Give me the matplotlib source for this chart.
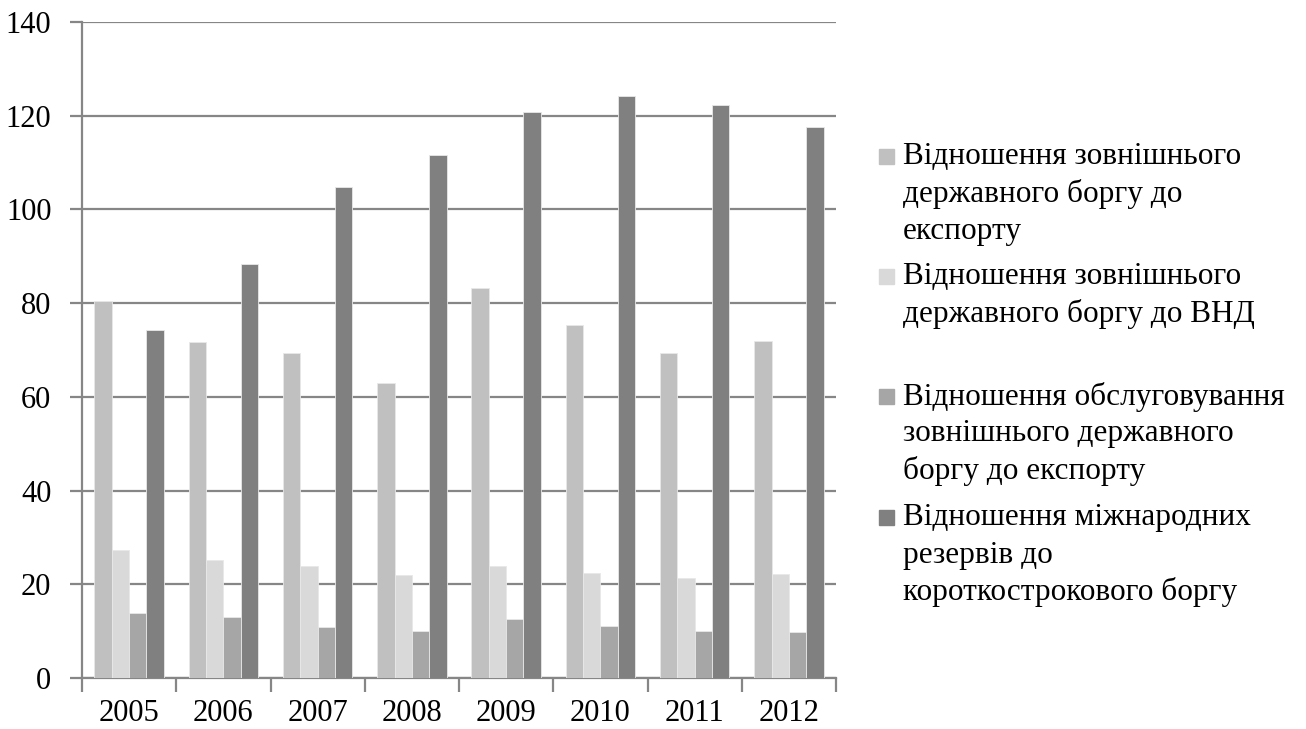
import numpy as np
import matplotlib.pyplot as plt
from matplotlib.patches import Rectangle

years = ["2005", "2006", "2007", "2008", "2009", "2010", "2011", "2012"]
debt_to_export = [80.5, 71.8, 69.4, 62.9, 83.3, 75.4, 69.3, 71.9]
debt_to_gni = [27.4, 25.1, 24.0, 22.0, 23.8, 22.4, 21.4, 22.1]
service_to_export = [13.9, 13.0, 10.9, 10.0, 12.6, 11.0, 10.0, 9.8]
reserves_to_short = [74.3, 88.4, 104.8, 111.7, 120.8, 124.2, 122.3, 117.6]

labels = [
    "Відношення зовнішнього\nдержавного боргу до\nекспорту",
    "Відношення зовнішнього\nдержавного боргу до ВНД",
    "Відношення обслуговування\nзовнішнього державного\nборгу до експорту",
    "Відношення міжнародних\nрезервів до\nкороткострокового боргу",
]
colors = ["#c0c0c0", "#d9d9d9", "#a6a6a6", "#808080"]
series = [debt_to_export, debt_to_gni, service_to_export, reserves_to_short]

plt.rcParams['font.family'] = ['Liberation Serif', 'DejaVu Serif']

fig = plt.figure(figsize=(13.06, 7.29), dpi=100)
ax = fig.add_axes([82/1306, 1 - 678/729, (836-82)/1306, (678-22)/729])

x = np.arange(len(years))
w = 0.184
for i, (vals, c) in enumerate(zip(series, colors)):
    ax.bar(x + (i - 1.5) * w, vals, w, color=c, edgecolor="#e8e8e8",
           linewidth=0.6, zorder=3)

ax.set_xlim(-0.5, len(years) - 0.5)
ax.set_ylim(0, 140)
ax.set_yticks(range(0, 141, 20))
ax.yaxis.grid(True, color="#868686", linewidth=1.6, zorder=0)
ax.set_axisbelow(True)

ax.set_xticks(x)
ax.set_xticklabels(years)
ax.set_xticks(np.arange(-0.5, len(years), 1), minor=True)
ax.tick_params(axis="x", which="major", length=0, labelsize=22, pad=15)
ax.tick_params(axis="x", which="minor", length=10, width=1.6, color="#868686")
ax.tick_params(axis="y", length=9, width=1.6, color="#868686", labelsize=22, pad=13)

for s in ["top", "right"]:
    ax.spines[s].set_visible(False)
for s in ["left", "bottom"]:
    ax.spines[s].set_color("#868686")
    ax.spines[s].set_linewidth(1.6)

# legend drawn by hand to follow the original spacing
W, H = 1306, 729
entry_tops = [157, 277, 397, 518]
for lab, c, yt in zip(labels, colors, entry_tops):
    fig.patches.append(Rectangle((879/W, 1 - (yt + 7)/H), 15/W, 15/H,
                                 transform=fig.transFigure, color=c))
    for j, line in enumerate(lab.split("\n")):
        fig.text(903/W, 1 - (yt + j*37)/H, line, fontsize=22.5,
                 va="center", ha="left")

fig.savefig("out.png", dpi=100)
